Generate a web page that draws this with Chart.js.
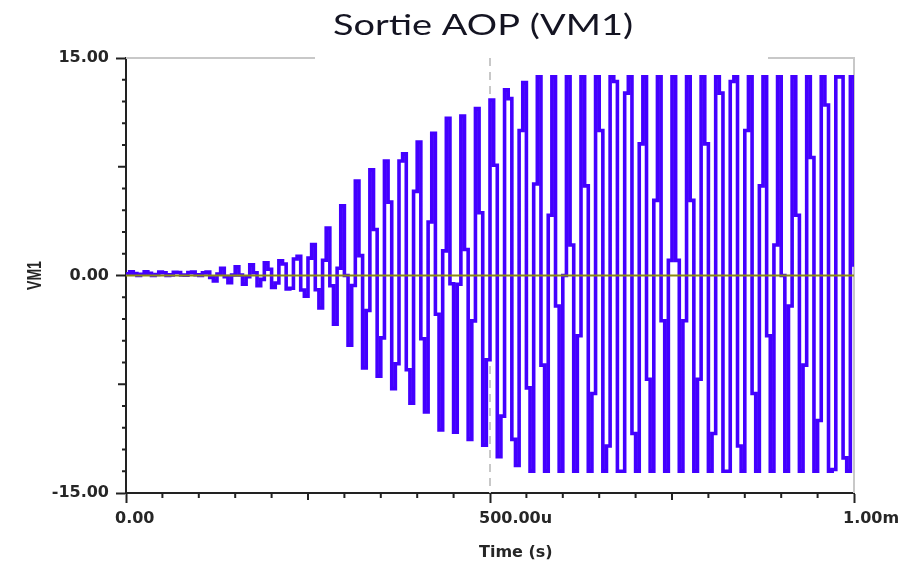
<!DOCTYPE html>
<html><head><meta charset="utf-8">
<script src="https://cdn.jsdelivr.net/npm/chart.js@4/dist/chart.umd.min.js"></script>
<style>html,body{margin:0;padding:0;background:#fff}#wrap{width:917px;height:568px;position:relative}</style>
</head><body><div id="wrap"><canvas id="c" width="917" height="568"></canvas></div>
<script>
const chartTitle = 'Sortie AOP (VM1)';
const xAxisTitle = 'Time (s)';
const yAxisTitle = 'VM1';
const sampleStepUs = 5;
const xTickValues = [0, 500, 1000];
const xTickLabels = ['0.00', '500.00u', '1.00m'];
const yTickValues = [-15, 0, 15];
const yTickLabels = ['-15.00', '0.00', '15.00'];
const vm1Values = [
  0.12, 0.25, 0.13, 0.00, 0.09, 0.25, 0.16, 0.00, 0.07, 0.24,
  0.19, 0.01, 0.04, 0.22, 0.21, 0.03, 0.02, 0.20, 0.23, 0.05,
  0.01, 0.18, 0.24, -0.13, -0.38, 0.10, 0.49, -0.08, -0.50, 0.03,
  0.60, 0.03, -0.60, -0.09, 0.73, 0.19, -0.71, -0.27, 0.87, 0.43,
  -0.82, -0.52, 1.01, 0.79, -0.93, -0.88, 1.14, 1.32, -1.00, -1.43,
  1.20, 2.14, -0.98, -2.24, 1.05, 3.28, -0.71, -3.36, 0.50, 4.80,
  0.00, -4.80, -0.69, 6.52, 1.37, -6.38, -2.41, 7.29, 3.17, -6.95,
  -4.30, 7.90, 5.06, -7.80, -6.09, 7.90, 8.40, -6.50, -8.80, 5.80,
  9.20, -4.36, -9.41, 3.69, 9.80, -2.67, -10.66, 1.70, 10.85, -0.57,
  -10.80, -0.60, 11.00, 1.79, -11.30, -3.13, 11.51, 4.33, -11.70, -5.81,
  12.10, 7.60, -12.50, -9.70, 12.80, 12.20, -11.30, -13.10, 10.00, 13.30,
  -7.75, -13.50, 6.31, 13.70, -6.18, -13.50, 4.16, 13.70, -2.10, -13.50,
  0.00, 13.70, 2.10, -13.50, -4.16, 13.70, 6.18, -13.50, -8.14, 13.70,
  10.00, -13.50, -11.76, 13.70, 13.38, -13.50, -13.50, 12.58, 13.70, -10.90,
  -13.50, 9.08, 13.70, -7.16, -13.50, 5.18, 13.70, -3.12, -13.50, 1.04,
  13.70, 1.04, -13.50, -3.12, 13.70, 5.18, -13.50, -7.16, 13.70, 9.08,
  -13.50, -10.90, 13.70, 12.58, -13.50, -13.50, 13.38, 13.70, -11.76, -13.50,
  10.00, 13.70, -8.14, -13.50, 6.18, 13.70, -4.16, -13.50, 2.10, 13.70,
  0.00, -13.50, -2.10, 13.70, 4.16, -13.50, -6.18, 13.70, 8.14, -13.50,
  -10.00, 13.70, 11.76, -13.50, -13.38, 13.70, 13.70, -12.58, -13.50, 13.70,
  0.60
];

const points = vm1Values.map((v, i) => ({ x: i * sampleStepUs, y: v }));
const tickFont = { family: 'DejaVu Sans', size: 16, weight: 'bold' };
const inkColor = '#262626';

const decor = {
  id: 'decor',
  beforeDatasetsDraw(chart) {
    const { ctx, chartArea: a, scales: { x } } = chart;
    ctx.save();
    ctx.strokeStyle = '#c8c8c8';
    ctx.lineWidth = 2;
    ctx.beginPath();
    ctx.moveTo(a.left, a.top); ctx.lineTo(315, a.top);
    ctx.moveTo(768, a.top); ctx.lineTo(a.right, a.top); ctx.lineTo(a.right, a.bottom);
    ctx.stroke();
    ctx.setLineDash([8, 6]);
    const xm = x.getPixelForValue(500);
    ctx.beginPath(); ctx.moveTo(xm, a.top); ctx.lineTo(xm, a.bottom); ctx.stroke();
    ctx.restore();
  },
  afterDatasetsDraw(chart) {
    const { ctx, chartArea: a, scales: { x, y } } = chart;
    ctx.save();
    const y0 = y.getPixelForValue(0);
    ctx.strokeStyle = '#8c8c10';
    ctx.lineWidth = 2;
    ctx.beginPath(); ctx.moveTo(a.left, y0); ctx.lineTo(a.right, y0); ctx.stroke();
    ctx.strokeStyle = '#222';
    ctx.lineWidth = 2;
    ctx.beginPath();
    for (let t = 50; t < 1000; t += 50) {
      if (t === 500) continue;
      const px = x.getPixelForValue(t);
      const len = (t === 250 || t === 750) ? 7 : 5;
      ctx.moveTo(px, a.bottom); ctx.lineTo(px, a.bottom + len);
    }
    for (let i = -9; i <= 9; i++) {
      if (i === 0) continue;
      const py = y.getPixelForValue(i * 1.5);
      const len = (Math.abs(i) === 5) ? 8 : 4;
      ctx.moveTo(a.left, py); ctx.lineTo(a.left - len, py);
    }
    ctx.stroke();
    // title (stretched horizontally to the reference width)
    ctx.save();
    ctx.fillStyle = '#141422';
    ctx.font = '29px Lato';
    const w = ctx.measureText(chartTitle).width;
    ctx.translate(483, 35);
    ctx.scale(300 / w, 1);
    ctx.textAlign = 'center';
    ctx.textBaseline = 'alphabetic';
    ctx.fillText(chartTitle, 0, 0);
    ctx.restore();
    // x axis title
    ctx.fillStyle = inkColor;
    ctx.font = 'bold 16px "DejaVu Sans"';
    ctx.textAlign = 'left';
    ctx.textBaseline = 'middle';
    ctx.fillText(xAxisTitle, x.getPixelForValue(500) - 11, 553);
    // y axis title
    ctx.save();
    ctx.translate(35, (a.top + a.bottom) / 2);
    ctx.rotate(-Math.PI / 2);
    ctx.scale(1, 1.5);
    ctx.font = 'bold 14px "Liberation Sans"';
    ctx.textAlign = 'center';
    ctx.textBaseline = 'middle';
    ctx.fillText(yAxisTitle, 0, 0);
    ctx.restore();
    ctx.restore();
  }
};

new Chart(document.getElementById('c'), {
  type: 'line',
  data: {
    datasets: [{
      data: points,
      borderColor: '#4300ff',
      borderWidth: 3.6,
      pointRadius: 0,
      stepped: true,
      fill: false,
      tension: 0,
      borderJoinStyle: 'miter',
      borderCapStyle: 'butt'
    }]
  },
  options: {
    responsive: false,
    animation: false,
    devicePixelRatio: 1,
    layout: { padding: { top: 58, right: 63, left: 0, bottom: 0 } },
    plugins: { legend: { display: false }, tooltip: { enabled: false }, title: { display: false } },
    scales: {
      x: {
        type: 'linear', min: 0, max: 1000, position: 'bottom',
        afterBuildTicks: s => { s.ticks = xTickValues.map(v => ({ value: v })); },
        afterFit: s => { s.height = 75; },
        ticks: {
          callback: v => xTickLabels[xTickValues.indexOf(v)],
          font: tickFont, color: inkColor, maxRotation: 0, autoSkip: false,
          align: 'start', labelOffset: -11, padding: 6
        },
        grid: { display: true, drawOnChartArea: false, drawTicks: true, tickLength: 10, tickColor: '#222', tickWidth: 2 },
        border: { display: true, color: '#222', width: 2 }
      },
      y: {
        type: 'linear', min: -15, max: 15, position: 'left',
        afterBuildTicks: s => { s.ticks = yTickValues.map(v => ({ value: v })); },
        afterFit: s => { s.width = 126; },
        ticks: {
          callback: v => yTickLabels[yTickValues.indexOf(v)],
          font: tickFont, color: inkColor, autoSkip: false, padding: 7
        },
        grid: { display: true, drawOnChartArea: false, drawTicks: true, tickLength: 10, tickColor: '#222', tickWidth: 2 },
        border: { display: true, color: '#222', width: 2 }
      }
    }
  },
  plugins: [decor]
});
</script>
</body></html>
